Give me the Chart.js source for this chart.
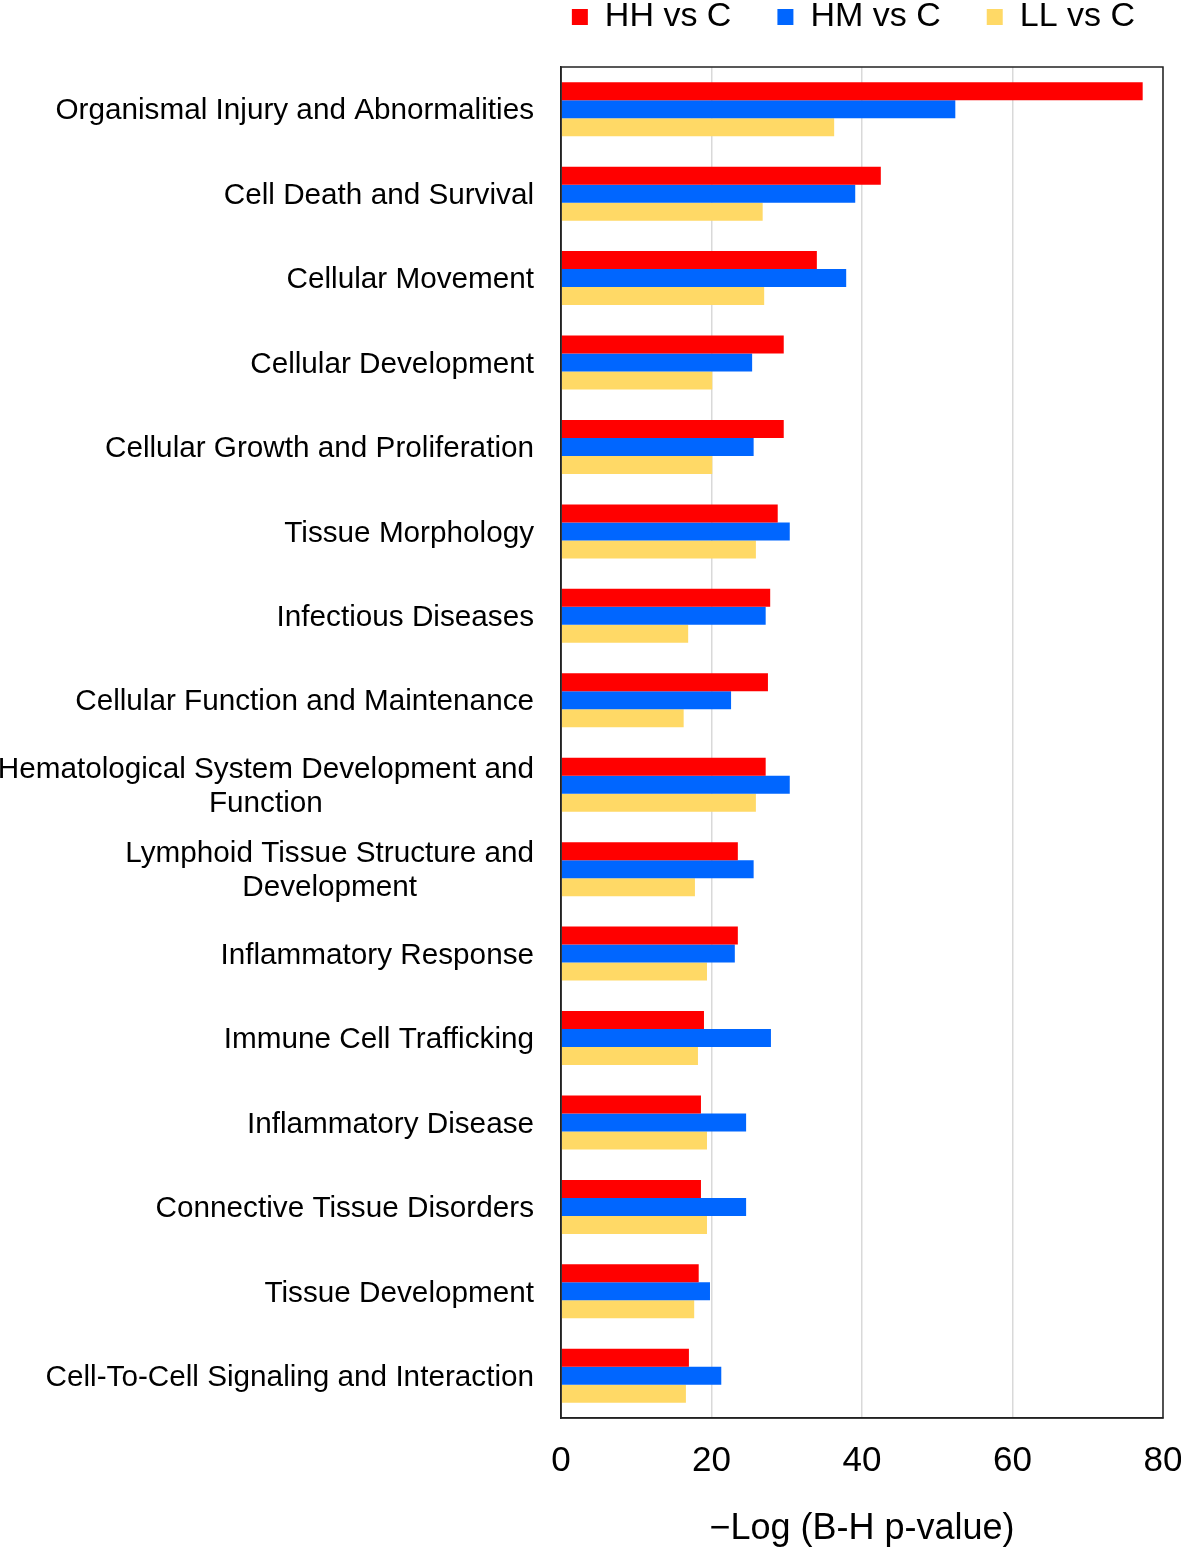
<!DOCTYPE html>
<html lang="en">
<head>
  <meta charset="UTF-8"/>
  <title>Disease and function categories</title>
  <script src="https://cdn.jsdelivr.net/npm/chart.js"></script>
  <style>
    html, body { margin: 0; padding: 0; background: #fff; }
    canvas { display: block; }
  </style>
</head>
<body>
  <canvas id="chart" width="1181" height="1547"></canvas>

  <script>
    const categories = [
      ['Organismal Injury and Abnormalities'],
      ['Cell Death and Survival'],
      ['Cellular Movement'],
      ['Cellular Development'],
      ['Cellular Growth and Proliferation'],
      ['Tissue Morphology'],
      ['Infectious Diseases'],
      ['Cellular Function and Maintenance'],
      ['Hematological System Development and', 'Function'],
      ['Lymphoid Tissue Structure and', 'Development'],
      ['Inflammatory Response'],
      ['Immune Cell Trafficking'],
      ['Inflammatory Disease'],
      ['Connective Tissue Disorders'],
      ['Tissue Development'],
      ['Cell-To-Cell Signaling and Interaction']
    ]
    const seriesNames = ['HH vs C', 'HM vs C', 'LL vs C']
    const hhValues = [77.3, 42.5, 34.0, 29.6, 29.6, 28.8, 27.8, 27.5, 27.2, 23.5, 23.5, 19.0, 18.6, 18.6, 18.3, 17.0]
    const hmValues = [52.4, 39.1, 37.9, 25.4, 25.6, 30.4, 27.2, 22.6, 30.4, 25.6, 23.1, 27.9, 24.6, 24.6, 19.8, 21.3]
    const llValues = [36.3, 26.8, 27.0, 20.1, 20.1, 25.9, 16.9, 16.3, 25.9, 17.8, 19.4, 18.2, 19.4, 19.4, 17.7, 16.6]
    const xMin = 0
    const xMax = 80
    const xStep = 20
    const xTitle = '\u2212Log (B-H p-value)'

    const FONT = '"Liberation Sans", Arial, sans-serif'

    // fixed legend height so the plot starts where the reference does
    const legendHeight = {
      id: 'legendHeight',
      beforeInit(chart) {
        const fit = chart.legend.fit
        chart.legend.fit = function () {
          fit.call(this)
          this.height = 113
        }
      }
    }

    // box around the plot area
    const frame = {
      id: 'frame',
      afterDatasetsDraw(chart) {
        const { ctx, chartArea: a } = chart
        ctx.save()
        ctx.strokeStyle = '#222'
        ctx.lineWidth = 1.5
        ctx.strokeRect(a.left, a.top, a.right - a.left, a.bottom - a.top)
        ctx.restore()
      }
    }

    // category labels: right aligned, wrapped lines centred on each other
    const categoryLabels = {
      id: 'categoryLabels',
      afterDraw(chart) {
        const { ctx } = chart
        const y = chart.scales.y
        const right = 534
        const lineH = 34
        ctx.save()
        ctx.font = '29.7px ' + FONT
        ctx.fillStyle = '#000'
        ctx.textBaseline = 'middle'
        chart.data.labels.forEach((lines, i) => {
          const cy = y.getPixelForValue(i) + 2
          const widest = Math.max(...lines.map(l => ctx.measureText(l).width))
          const cx = right - widest / 2
          ctx.textAlign = lines.length > 1 ? 'center' : 'right'
          lines.forEach((l, k) => {
            const ly = cy + (k - (lines.length - 1) / 2) * lineH
            ctx.fillText(l, lines.length > 1 ? cx : right, ly)
          })
        })
        ctx.restore()
      }
    }

    new Chart(document.getElementById('chart'), {
      type: 'bar',
      data: {
        labels: categories,
        datasets: [
          { label: seriesNames[0], data: hhValues, backgroundColor: '#FF0000' },
          { label: seriesNames[1], data: hmValues, backgroundColor: '#0066FF' },
          { label: seriesNames[2], data: llValues, backgroundColor: '#FFD966' }
        ]
      },
      options: {
        indexAxis: 'y',
        responsive: false,
        animation: false,
        devicePixelRatio: 1,
        categoryPercentage: 0.64,
        barPercentage: 1.0,
        layout: { padding: { top: -46, right: 0, bottom: 0, left: 0 } },
        plugins: {
          legend: {
            position: 'top',
            align: 'end',
            labels: {
              boxWidth: 16,
              boxHeight: 16,
              padding: 46,
              color: '#000',
              font: { family: FONT, size: 34 }
            }
          },
          tooltip: { enabled: false }
        },
        scales: {
          x: {
            min: xMin,
            max: xMax,
            ticks: {
              stepSize: xStep,
              padding: 22,
              color: '#000',
              font: { family: FONT, size: 35 }
            },
            grid: { color: '#d9d9d9', lineWidth: 1.5, drawTicks: false },
            border: { color: '#222', width: 1.5 },
            title: {
              display: true,
              text: xTitle,
              color: '#000',
              font: { family: FONT, size: 36, lineHeight: 1 },
              padding: { top: 0, bottom: 0 }
            },
            afterFit(scale) {
              scale.height = 129
              scale.paddingRight = 18
            }
          },
          y: {
            ticks: { display: false },
            grid: { display: false },
            border: { color: '#222', width: 1.5 },
            afterFit(scale) { scale.width = 561 }
          }
        }
      },
      plugins: [legendHeight, frame, categoryLabels]
    })
  </script>
</body>
</html>
